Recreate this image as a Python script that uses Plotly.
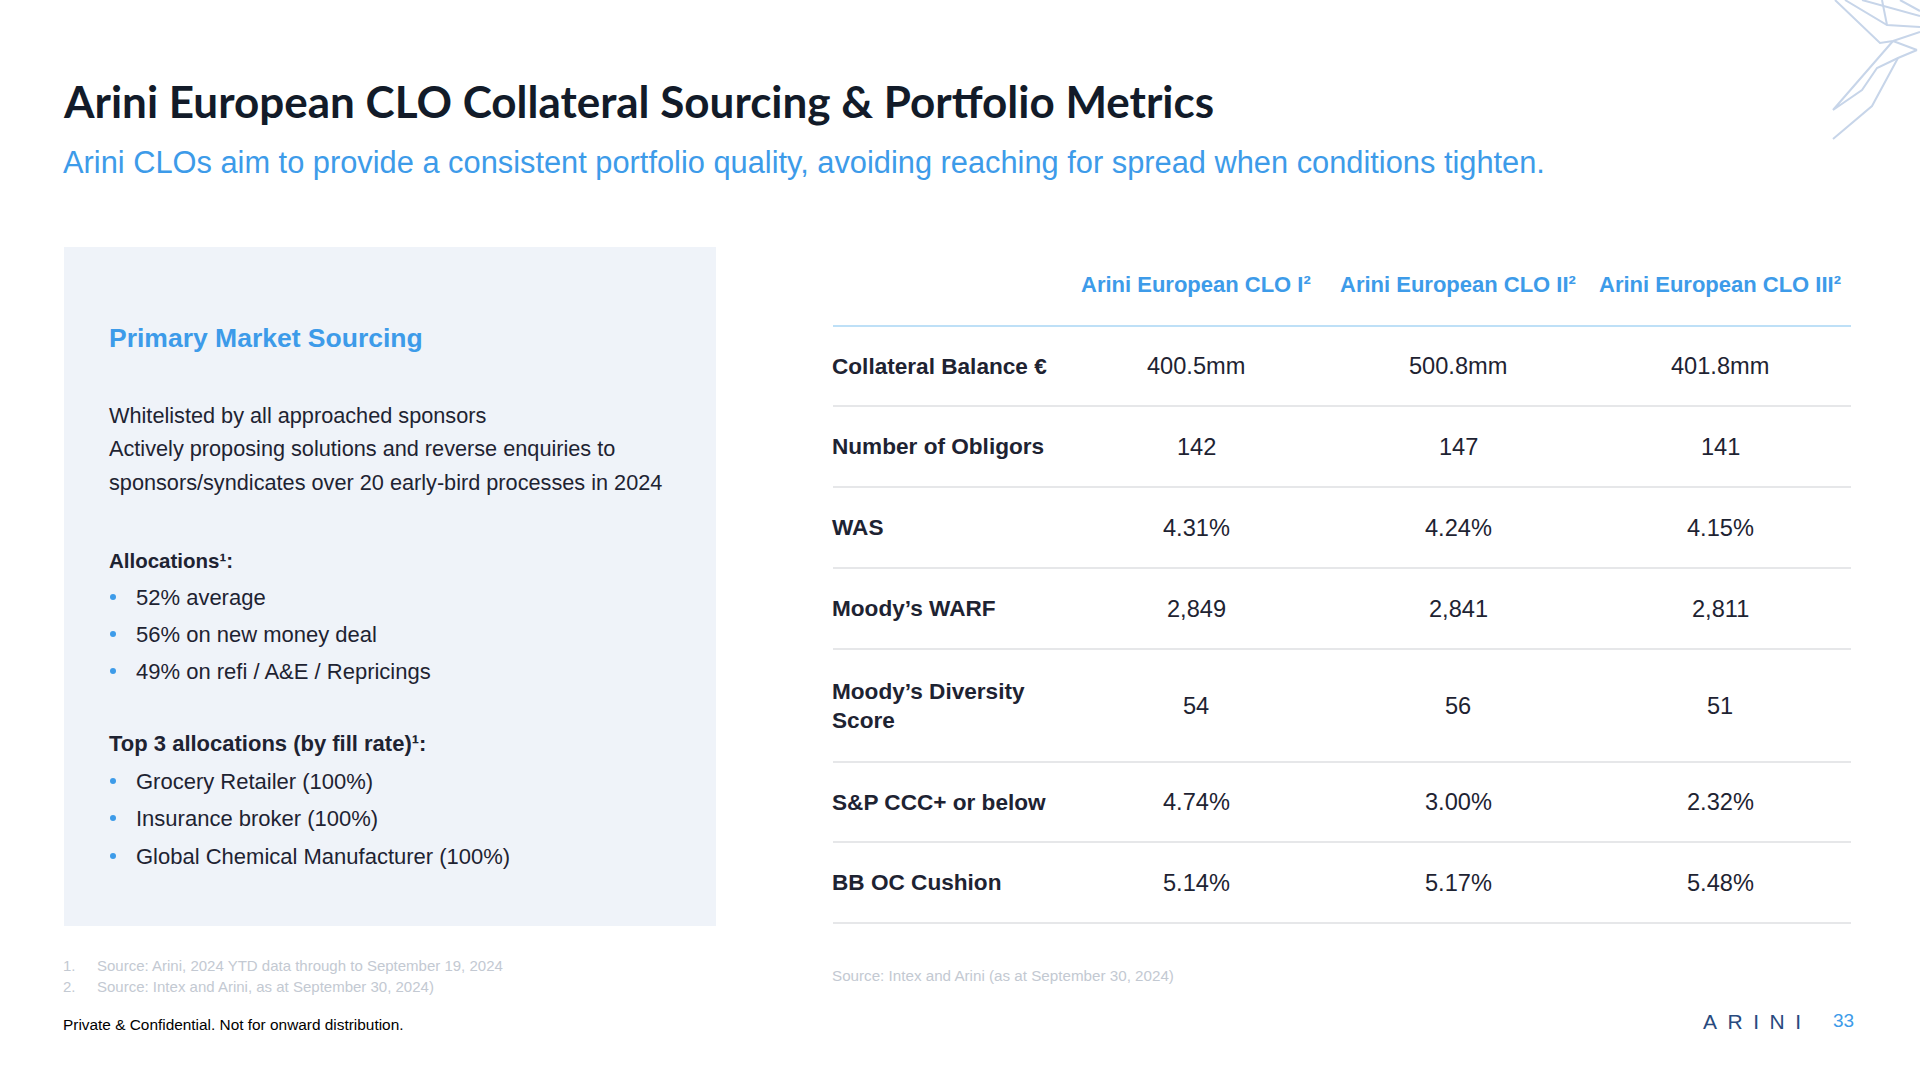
import plotly.graph_objects as go

# ---------------- data ----------------
title = "Arini European CLO Collateral Sourcing & Portfolio Metrics"
subtitle = ("Arini CLOs aim to provide a consistent portfolio quality, avoiding reaching "
            "for spread when conditions tighten.")

panel_heading = "Primary Market Sourcing"
intro_lines = [
    "Whitelisted by all approached sponsors",
    "Actively proposing solutions and reverse enquiries to",
    "sponsors/syndicates over 20 early-bird processes in 2024",
]
alloc_heading = "Allocations¹:"
alloc_items = ["52% average", "56% on new money deal", "49% on refi / A&E / Repricings"]
top_heading = "Top 3 allocations (by fill rate)¹:"
top_items = ["Grocery Retailer (100%)", "Insurance broker (100%)",
             "Global Chemical Manufacturer (100%)"]

footnotes = ["Source: Arini, 2024 YTD data through to September 19, 2024",
             "Source: Intex and Arini, as at September 30, 2024)"]
table_source = "Source: Intex and Arini (as at September 30, 2024)"
disclaimer = "Private & Confidential. Not for onward distribution."
logo_text = "ARINI"
page_number = "33"

clo_names = ["Arini European CLO I²", "Arini European CLO II²", "Arini European CLO III²"]
metrics = ["Collateral Balance €", "Number of Obligors", "WAS", "Moody’s WARF",
           "Moody’s Diversity<br>Score", "S&P CCC+ or below", "BB OC Cushion"]
metric_formats = ["{:.1f}mm", "{:d}", "{:.2f}%", "{:,d}", "{:d}", "{:.2f}%", "{:.2f}%"]
clo_i = [400.5, 142, 4.31, 2849, 54, 4.74, 5.14]
clo_ii = [500.8, 147, 4.24, 2841, 56, 3.00, 5.17]
clo_iii = [401.8, 141, 4.15, 2811, 51, 2.32, 5.48]

# ---------------- style / layout ----------------
W, H = 1920, 1080
NAVY = "#121B29"
TEXT = "#1E2332"
BLUE = "#3D9BE9"
PANEL = "#EFF3F9"
GREY_LINE = "#E6E7E9"
HEAD_LINE = "#BEE0F7"
FOOT = "#C3C9D2"
LOGO = "#284A7E"
DECO = "#C7D5E9"
SANS = "Liberation Sans, Arial, sans-serif"

fig = go.Figure()
fig.add_trace(go.Scatter(x=[0, W], y=[0, H], mode="markers",
                         marker=dict(opacity=0), hoverinfo="skip", showlegend=False))

ann = []
shapes = []


def text(x, y, s, size, color, bold=False, family=SANS, xanchor="left", yanchor="middle",
         align="left"):
    ann.append(dict(x=x, y=y, xref="x", yref="y", text=s, showarrow=False,
                    xanchor=xanchor, yanchor=yanchor, align=align,
                    font=dict(size=size, color=color, family=family,
                              weight="bold" if bold else "normal")))


def bullet(x, y, r=3):
    shapes.append(dict(type="circle", xref="x", yref="y", x0=x - r, x1=x + r,
                       y0=y - r, y1=y + r, fillcolor=BLUE, line=dict(width=0)))


# title + subtitle
text(61, 101, title, 44, NAVY, bold=True, family="Lato, Open Sans, sans-serif")
text(61, 162, subtitle, 30.8, BLUE)

# left panel
shapes.append(dict(type="rect", xref="x", yref="y", x0=64, x1=716, y0=247, y1=926,
                   fillcolor=PANEL, line=dict(width=0), layer="below"))
text(107, 338, panel_heading, 26.5, BLUE, bold=True)
for s, y in zip(intro_lines, [415, 448, 482]):
    text(107, y, s, 21.7, TEXT)
text(107, 560, alloc_heading, 20.5, TEXT, bold=True)
for s, y in zip(alloc_items, [597, 634, 671]):
    bullet(113, y)
    text(134, y, s, 22, TEXT)
text(107, 743, top_heading, 22, TEXT, bold=True)
for s, y in zip(top_items, [781, 818, 856]):
    bullet(113, y)
    text(134, y, s, 22, TEXT)

# footnotes
for i, (s, y) in enumerate(zip(footnotes, [965, 986])):
    text(61, y, f"{i + 1}.", 15, FOOT)
    text(95, y, s, 15, FOOT)
text(830, 975, table_source, 15.2, FOOT)
text(61, 1024, disclaimer, 15.4, "#000000")

# logo + page number
text(1752, 1021, "\u2002".join(logo_text), 21, LOGO, xanchor="center")
text(1843, 1020, page_number, 19, BLUE, xanchor="center")

# table
col_x = [1196, 1458, 1720]
label_x = 830
line_x0, line_x1 = 833, 1851
header_y = 284
header_line_y = 326
row_heights = [80, 81, 81, 81, 113, 80, 81]

for name, cx in zip(clo_names, col_x):
    text(cx, header_y, name, 22, BLUE, bold=True, xanchor="center")
shapes.append(dict(type="line", xref="x", yref="y", x0=line_x0, x1=line_x1,
                   y0=header_line_y, y1=header_line_y, line=dict(color=HEAD_LINE, width=2)))

columns = [clo_i, clo_ii, clo_iii]
y_top = header_line_y
for r, (metric, fmt, rh) in enumerate(zip(metrics, metric_formats, row_heights)):
    cy = y_top + rh / 2
    text(label_x, cy, metric, 22.6, TEXT, bold=True)
    for col, cx in zip(columns, col_x):
        text(cx, cy, fmt.format(col[r]), 23.6, TEXT, xanchor="center")
    y_top += rh
    shapes.append(dict(type="line", xref="x", yref="y", x0=line_x0, x1=line_x1,
                       y0=y_top, y1=y_top, line=dict(color=GREY_LINE, width=2)))

# decorative geometric lines (top right)
deco = [
    [(1835, 0), (1880, 43), (1893, 41), (1920, 32)],
    [(1845, 0), (1887, 25), (1920, 27)],
    [(1882, 0), (1887, 25)],
    [(1862, 0), (1920, 16)],
    [(1900, 0), (1920, 11)],
    [(1893, 41), (1917, 50)],
    [(1893, 41), (1833, 110), (1862, 90), (1877, 68), (1898, 58), (1917, 50)],
    [(1833, 139), (1872, 106), (1898, 58)],
]
for pts in deco:
    path = "M " + " L ".join(f"{x},{y}" for x, y in pts)
    shapes.append(dict(type="path", xref="x", yref="y", path=path,
                       line=dict(color=DECO, width=2)))

fig.update_layout(
    width=W, height=H, margin=dict(l=0, r=0, t=0, b=0),
    paper_bgcolor="white", plot_bgcolor="white",
    xaxis=dict(range=[0, W], visible=False, fixedrange=True),
    yaxis=dict(range=[H, 0], visible=False, fixedrange=True),
    annotations=ann, shapes=shapes, showlegend=False,
)

fig.write_html("out.html", config={"displayModeBar": False},
               post_script="document.body.style.margin='0';document.body.style.overflow='hidden';")
